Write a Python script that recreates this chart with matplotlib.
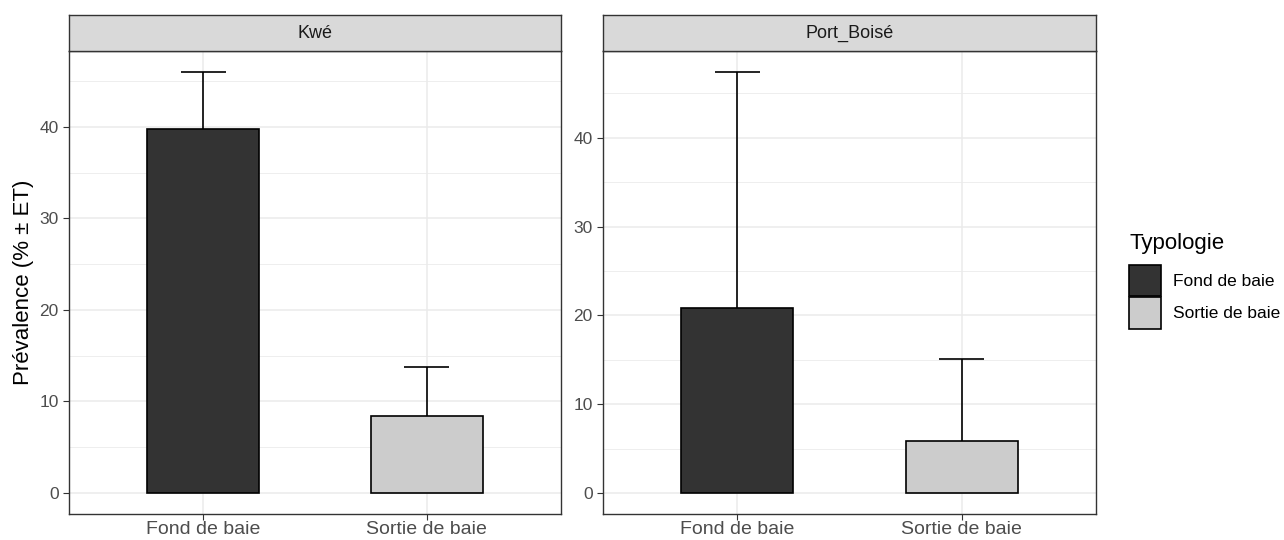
import matplotlib.pyplot as plt
import numpy as np
from matplotlib.patches import Patch

plt.rcParams["font.family"] = ["Liberation Sans", "DejaVu Sans"]

sites = ["Kwé", "Port_Boisé"]
categories = ["Fond de baie", "Sortie de baie"]
prevalence = {"Kwé": [39.8, 8.45], "Port_Boisé": [20.8, 5.9]}
upper = {"Kwé": [46.0, 13.8], "Port_Boisé": [47.4, 15.1]}
fills = ["#333333", "#CCCCCC"]

fig = plt.figure(figsize=(12.84, 5.4), dpi=100)
W, H = 1284, 540
panels = [(69, 561), (603, 1096)]
top, strip_h, bottom = 51, 36, 514

for (x0, x1), site in zip(panels, sites):
    ax = fig.add_axes([x0 / W, 1 - bottom / H, (x1 - x0) / W, (bottom - top) / H])
    vals = np.array(prevalence[site])
    up = np.array(upper[site])
    xs = np.arange(1, len(categories) + 1)
    ax.bar(xs, vals, width=0.5, color=fills, edgecolor="black", linewidth=1.2, zorder=3)
    ax.errorbar(xs, up, yerr=[up - vals, np.zeros_like(vals)], fmt="none",
                ecolor="black", elinewidth=1.2, capsize=0, zorder=2)
    for x, u in zip(xs, up):
        ax.plot([x - 0.1, x + 0.1], [u, u], color="black", lw=1.2, zorder=2,
                solid_capstyle="butt")
    ymax = up.max()
    ax.set_ylim(-0.05 * ymax, ymax * 1.05)
    ax.set_xlim(0.4, 2.6)
    ax.set_xticks(xs)
    ax.set_xticklabels(categories, fontsize=14, color="#4D4D4D")
    ax.set_yticks([0, 10, 20, 30, 40])
    ax.set_yticks([5, 15, 25, 35, 45], minor=True)
    ax.tick_params(axis="y", labelsize=12.5, labelcolor="#4D4D4D", color="#333333", length=4)
    ax.tick_params(axis="x", color="#333333", length=4, pad=1)
    ax.tick_params(which="minor", length=0)
    ax.grid(True, which="major", color="#EBEBEB", lw=1.1, zorder=0)
    ax.grid(True, which="minor", axis="y", color="#EBEBEB", lw=0.6, zorder=0)
    ax.set_axisbelow(True)
    for s in ax.spines.values():
        s.set_color("#333333")
        s.set_linewidth(1.0)

    sax = fig.add_axes([x0 / W, 1 - top / H, (x1 - x0) / W, strip_h / H])
    sax.set_facecolor("#D9D9D9")
    sax.set_xticks([])
    sax.set_yticks([])
    for s in sax.spines.values():
        s.set_color("#333333")
        s.set_linewidth(1.0)
    sax.text(0.5, 0.5, site, ha="center", va="center", fontsize=13, color="#1A1A1A",
             transform=sax.transAxes)

    if site == "Kwé":
        ax.set_ylabel("Prévalence (% ± ET)", fontsize=16, labelpad=4)

fig.text(1129 / W, 1 - 244 / H, "Typologie", fontsize=16, ha="left", va="center")
handles = [Patch(facecolor=c, edgecolor="black", linewidth=1.2) for c in fills]
fig.legend(handles, categories, loc="upper left",
           bbox_to_anchor=(1129 / W, 1 - 265 / H), frameon=False, fontsize=12.5,
           handlelength=1.85, handleheight=2.4, handletextpad=0.7,
           labelspacing=0.05, borderpad=0, borderaxespad=0)

fig.savefig("out.png", dpi=100)
